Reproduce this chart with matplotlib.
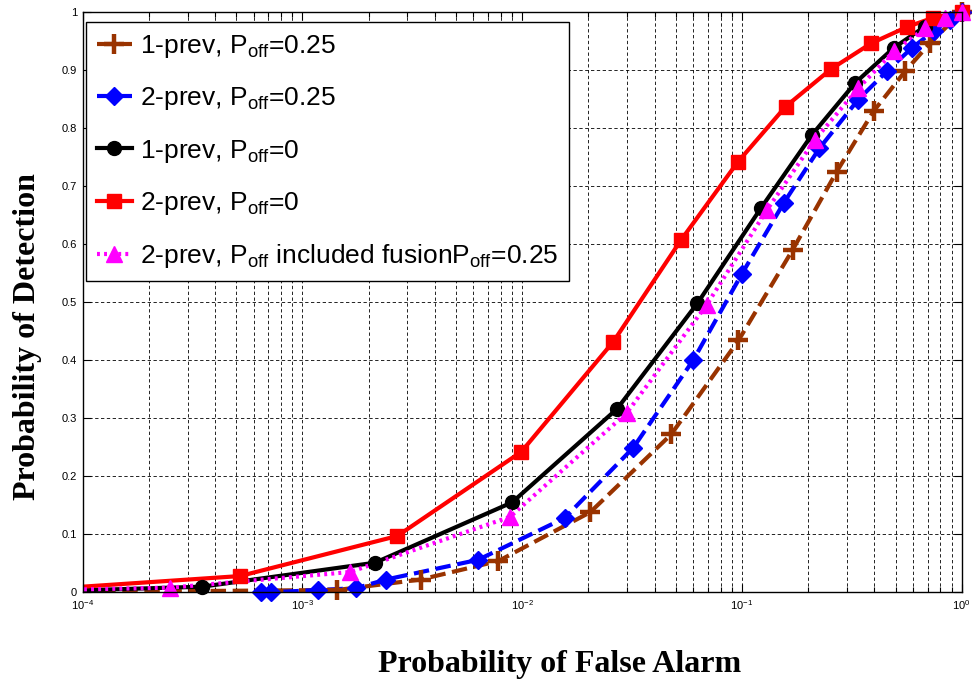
#!/usr/bin/env python3
# -*- coding: utf-8 -*-

import numpy as np
import matplotlib as mpl
mpl.use("Agg")
import matplotlib.pyplot as plt
from matplotlib.lines import Line2D
from matplotlib.ticker import FixedLocator, FuncFormatter, LogLocator


# ============================================================
# DATA
# ============================================================

# 1-prev, Poff=0.25
PFA_1PREV_025 = [6e-5, 1.44e-3, 3.45e-3, 7.8e-3, 0.0204, 0.0476, 0.0964, 0.170, 0.270, 0.397, 0.553, 0.72, 1.0]
PD_1PREV_025 = [0.0, 0.004, 0.022, 0.054, 0.138, 0.272, 0.434, 0.590, 0.725, 0.829, 0.898, 0.947, 1.0]

# 2-prev, Poff=0.25
PFA_2PREV_025 = [6.5e-4, 7.2e-4, 1.18e-3, 1.75e-3, 2.4e-3, 6.3e-3, 0.0156, 0.032, 0.060, 0.100, 0.155, 0.225, 0.338, 0.457, 0.593, 0.745, 0.88, 1.0]
PD_2PREV_025 = [0.0, 0.0, 0.004, 0.007, 0.022, 0.056, 0.128, 0.249, 0.400, 0.549, 0.671, 0.765, 0.849, 0.898, 0.938, 0.967, 0.987, 1.0]

# 1-prev, Poff=0
PFA_1PREV_0 = [5e-5, 3.5e-4, 2.14e-3, 9.0e-3, 0.027, 0.0627, 0.122, 0.208, 0.328, 0.49, 0.68, 1.0]
PD_1PREV_0 = [0.0, 0.0097, 0.051, 0.155, 0.316, 0.498, 0.662, 0.788, 0.878, 0.938, 0.975, 1.0]

# 2-prev, Poff=0
PFA_2PREV_0 = [5e-5, 5.2e-4, 2.7e-3, 9.9e-3, 0.026, 0.0528, 0.0955, 0.158, 0.255, 0.387, 0.562, 0.74, 1.0]
PD_2PREV_0 = [0.002, 0.028, 0.097, 0.242, 0.432, 0.607, 0.741, 0.837, 0.902, 0.946, 0.974, 0.990, 1.0]

# 2-prev, Poff included fusion, Poff=0.25
PFA_2PREV_FUS = [4e-5, 2.5e-4, 1.65e-3, 8.8e-3, 0.0299, 0.069, 0.13, 0.215, 0.339, 0.49, 0.68, 0.84, 1.0]
PD_2PREV_FUS = [0.002, 0.008, 0.035, 0.130, 0.309, 0.495, 0.659, 0.78, 0.869, 0.932, 0.972, 0.99, 1.0]

LABELS = [
    r"1-prev, P$_{\mathrm{off}}$=0.25",
    r"2-prev, P$_{\mathrm{off}}$=0.25",
    r"1-prev, P$_{\mathrm{off}}$=0",
    r"2-prev, P$_{\mathrm{off}}$=0",
    r"2-prev, P$_{\mathrm{off}}$ included fusionP$_{\mathrm{off}}$=0.25",
]

Y_TICKS = [0, 0.1, 0.2, 0.3, 0.4, 0.5, 0.6, 0.7, 0.8, 0.9, 1.0]


# ============================================================
# STYLE SETTINGS
# ============================================================
FIG_W, FIG_H, DPI = 9.72, 6.79, 100
AX_RECT = [82.7 / 972, (679 - 592.3) / 679, 879 / 972, 580.3 / 679]

LW = 3.0
SERIES_STYLE = [
    dict(color="#993300", ls=(0, (3.7, 1.6)), marker="+", ms=14, mew=3.2),
    dict(color="#0000FF", ls=(0, (3.7, 1.6)), marker="D", ms=9, mew=1),
    dict(color="#000000", ls="-", marker="o", ms=10, mew=1),
    dict(color="#FF0000", ls="-", marker="s", ms=10, mew=1),
    dict(color="#FF00FF", ls=(0, (0.7, 1.0)), marker="^", ms=12, mew=1),
]

mpl.rcParams["font.family"] = ["Liberation Sans", "DejaVu Sans"]
mpl.rcParams["mathtext.fontset"] = "custom"
mpl.rcParams["mathtext.rm"] = "Liberation Sans"
mpl.rcParams["mathtext.it"] = "Liberation Sans:italic"
mpl.rcParams["mathtext.bf"] = "Liberation Sans:bold"


# ============================================================
# PLOT
# ============================================================
fig = plt.figure(figsize=(FIG_W, FIG_H), dpi=DPI)
ax = fig.add_axes(AX_RECT)
ax.set_xscale("log")
ax.set_xlim(1e-4, 1.0)
ax.set_ylim(0, 1)

all_series = [
    (PFA_1PREV_025, PD_1PREV_025),
    (PFA_2PREV_025, PD_2PREV_025),
    (PFA_1PREV_0, PD_1PREV_0),
    (PFA_2PREV_0, PD_2PREV_0),
    (PFA_2PREV_FUS, PD_2PREV_FUS),
]

handles = []
for (xs, ys), st, lab in zip(all_series, SERIES_STYLE, LABELS):
    xs = np.asarray(xs)
    ys = np.asarray(ys)
    # line is clipped to the axes, markers are not (like matlab)
    ax.plot(xs, ys, color=st["color"], linestyle=st["ls"], linewidth=LW, zorder=3)
    inside = xs >= 1e-4
    ax.plot(xs[inside], ys[inside], linestyle="none", marker=st["marker"],
            markersize=st["ms"], markeredgewidth=st["mew"],
            color=st["color"], markerfacecolor=st["color"],
            markeredgecolor=st["color"], clip_on=False, zorder=4)
    handles.append(Line2D([], [], color=st["color"], linestyle=st["ls"], linewidth=LW,
                          marker=st["marker"], markersize=st["ms"],
                          markeredgewidth=st["mew"], markerfacecolor=st["color"],
                          markeredgecolor=st["color"], label=lab))

# ticks
ax.xaxis.set_major_locator(LogLocator(base=10, numticks=10))
ax.xaxis.set_minor_locator(LogLocator(base=10, subs=np.arange(2, 10), numticks=20))
ax.yaxis.set_major_locator(FixedLocator(Y_TICKS))
ax.yaxis.set_major_formatter(FuncFormatter(lambda v, p: f"{v:g}"))
ax.tick_params(which="both", direction="in", top=True, right=True, labelsize=8, pad=4)
ax.tick_params(which="major", length=6, width=0.8)
ax.tick_params(which="minor", length=3.5, width=0.8)

# grid (dashed, major + minor on log axis)
ax.grid(True, which="both", axis="x", color="k", linestyle=(0, (4, 3)), linewidth=0.6)
ax.grid(True, which="major", axis="y", color="k", linestyle=(0, (4, 3)), linewidth=0.6)
ax.set_axisbelow(True)

for sp in ax.spines.values():
    sp.set_linewidth(1.0)
    sp.set_zorder(5)

# labels
ax.set_xlabel("Probability of False Alarm", fontsize=23, fontweight="bold",
              family="Liberation Serif")
ax.xaxis.set_label_coords(0.543, -0.1)
ax.xaxis.label.set_va("top")
ax.set_ylabel("Probability of Detection", fontsize=23, fontweight="bold",
              family="Liberation Serif")
ax.yaxis.set_label_coords(-0.046, 0.44)

# legend
leg = ax.legend(handles=handles, loc="upper left", bbox_to_anchor=(0.004, 0.983),
                borderaxespad=0, fontsize=19, numpoints=1, handlelength=1.3,
                handletextpad=0.3, labelspacing=0.96, borderpad=0.42,
                fancybox=False, framealpha=1, edgecolor="k")
leg.get_frame().set_linewidth(1.0)
leg.set_zorder(6)

fig.savefig("out.png", dpi=DPI)
plt.close(fig)
